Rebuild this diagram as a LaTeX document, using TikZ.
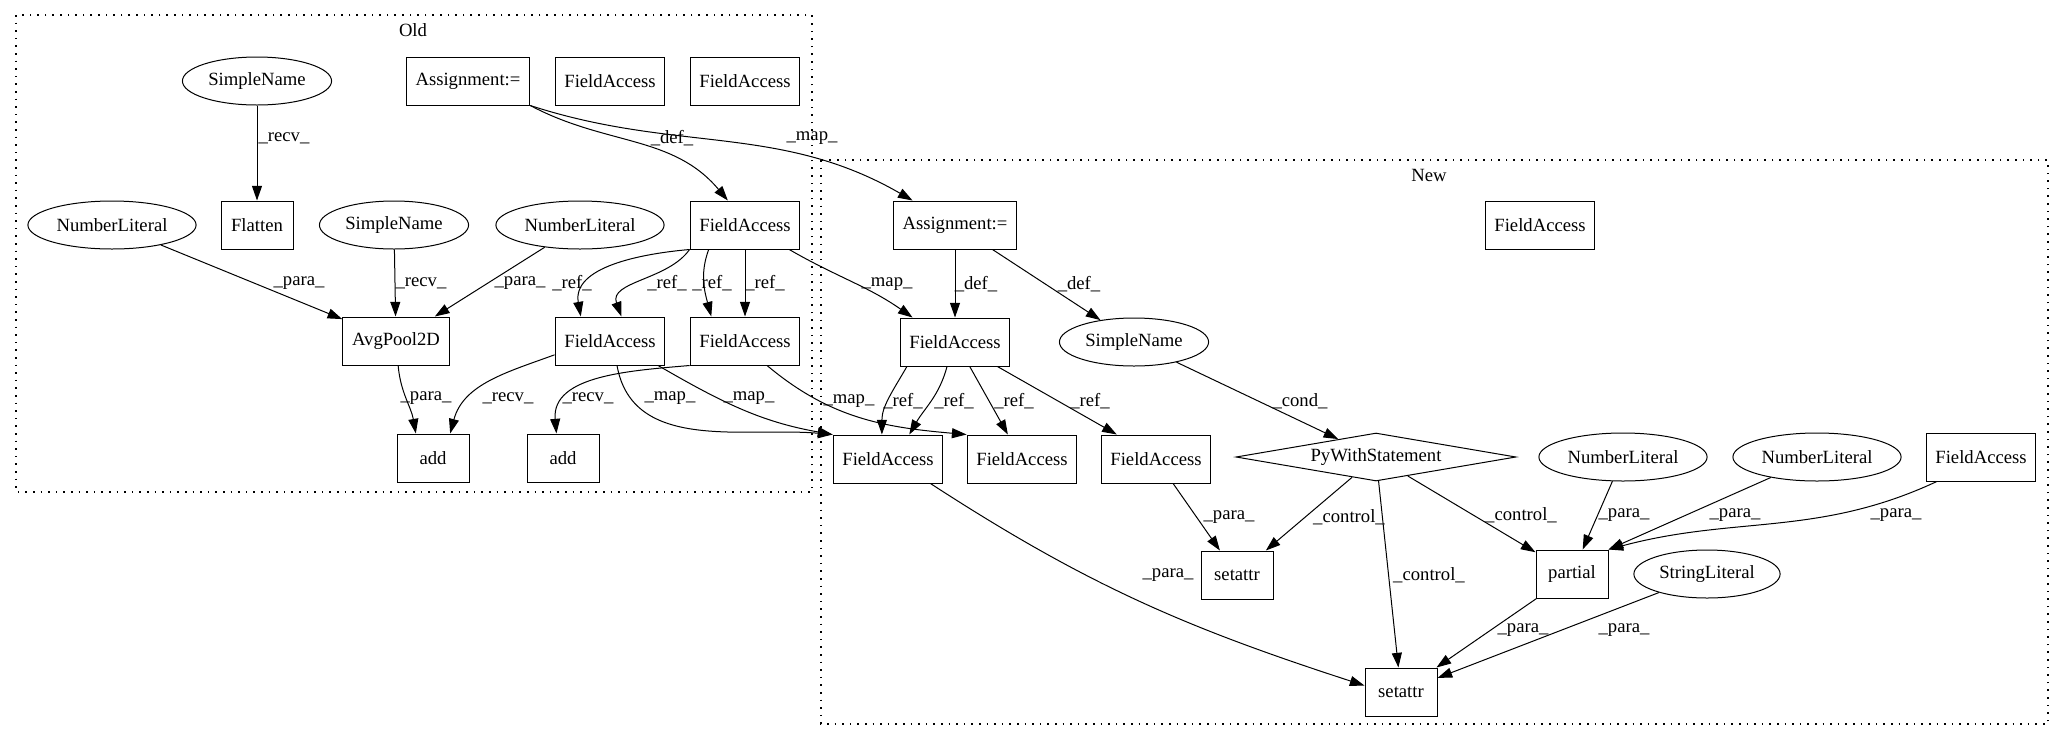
\documentclass[tikz,border=0pt]{standalone}
\usepackage{fontspec}
\setmainfont{Liberation Serif}
\usetikzlibrary{shapes.geometric, arrows.meta}

\begin{document}
\begin{tikzpicture}[x=0.75pt, y=-0.75pt,
	every node/.style={font=\fontsize{14}{16}\selectfont},
	box/.style={draw, rectangle, minimum height=36pt, minimum width=54pt, inner xsep=7pt, line width=0.75pt},
	oval/.style={draw, ellipse, minimum height=36pt, inner xsep=3pt, line width=0.75pt},
	rhomb/.style={draw, diamond, shape aspect=5.8, minimum width=210pt, minimum height=36pt, inner sep=0pt, line width=0.75pt},
	cluster/.style={draw, line width=0.8pt, dash pattern=on 1.2pt off 4.5pt},
	link/.style={-{Triangle[length=11pt,width=7.5pt]}, line width=0.75pt},
	lbl/.style={inner sep=0pt},]
\useasboundingbox (0,0) rectangle (2064,740);

% Old
\draw[cluster] (16,15) rectangle (812,492);
\node (old) at (413,30) {Old};
\node[oval] (sn1) at (257,81) {SimpleName};
\node[box] (asg1) at (468,81) {Assignment:=};
\node[box] (fa1) at (610,81) {FieldAccess};
\node[box] (fa2) at (745,81) {FieldAccess};
\node[oval] (nl1) at (112,225) {NumberLiteral};
\node[box] (flat) at (257,225) {Flatten};
\node[oval] (sn2) at (394,225) {SimpleName};
\node[oval] (nl2) at (580,225) {NumberLiteral};
\node[box] (fa3) at (745,225) {FieldAccess};
\node[box] (avg) at (396,341) {AvgPool2D};
\node[box] (fa4) at (610,341) {FieldAccess};
\node[box] (fa5) at (745,341) {FieldAccess};
\node[box] (add1) at (433,458) {add};
\node[box] (add2) at (563,458) {add};

% New
\draw[cluster] (821,160) rectangle (2048,724);
\node (new) at (1429,175) {New};
\node[box] (asg2) at (955,225) {Assignment:=};
\node[box] (fa6) at (1540,225) {FieldAccess};
\node[box] (fa7) at (955,342) {FieldAccess};
\node[oval] (sn3) at (1134,342) {SimpleName};
\node[box] (fa8) at (888,459) {FieldAccess};
\node[box] (fa9) at (1022,459) {FieldAccess};
\node[box] (fa10) at (1156,459) {FieldAccess};
\node[rhomb] (pyw) at (1376,457) {PyWithStatement};
\node[oval] (nl3) at (1623,457) {NumberLiteral};
\node[oval] (nl4) at (1817,457) {NumberLiteral};
\node[box] (fa11) at (1981,457) {FieldAccess};
\node[box] (set1) at (1237,575) {setattr};
\node[box] (part) at (1572,574) {partial};
\node[oval] (str) at (1707,574) {StringLiteral};
\node[box] (set2) at (1401,692) {setattr};

% edges in Old
\draw[link] (sn1) -- (flat);
\node[lbl] (e1) at (284,138) {\_recv\_};
\draw[link] (nl1) -- (avg);
\node[lbl] (e2) at (299,283) {\_para\_};
\draw[link] (sn2) -- (avg);
\node[lbl] (e3) at (421,283) {\_recv\_};
\draw[link] (nl2) -- (avg);
\node[lbl] (e4) at (520,283) {\_para\_};
\draw[link] (asg1.south east) to[out=-28,in=130] (fa3.125);
\node[lbl] (e5) at (672,138) {\_def\_};
\draw[link] (asg1.south east) to[out=-18,in=150] (asg2.150);
\node[lbl] (e6) at (812,138) {\_map\_};
\draw[link] (fa3.south west) to[out=185,in=100] (fa4.140);
\node[lbl] (e7) at (572,283) {\_ref\_};
\draw[link] (fa3.south west) to[out=235,in=110] (fa4.65);
\node[lbl] (e8) at (667,283) {\_ref\_};
\draw[link] (fa3.214) to[out=250,in=105] (fa5.144);
\node[lbl] (e9) at (712,283) {\_ref\_};
\draw[link] (fa3) -- (fa5);
\node[lbl] (e10) at (765,283) {\_ref\_};
\draw[link] (fa3.331) to[out=-30,in=145] (fa7.150);
\node[lbl] (e11) at (887,284) {\_map\_};
\draw[link] (avg) to[out=-85,in=100] (add1.125);
\node[lbl] (e12) at (426,398) {\_para\_};
\draw[link] (fa4.194) to[out=200,in=75] (add1.55);
\node[lbl] (e13) at (508,398) {\_recv\_};
\draw[link] (fa5.south west) to[out=185,in=95] (add2.105);
\node[lbl] (e14) at (588,398) {\_recv\_};
\draw[link] (fa4.286) to[out=-80,in=175] (fa8.north west);
\node[lbl] (e15) at (670,398) {\_map\_};
\draw[link] (fa4.333) to[out=-30,in=170] (fa8.north west);
\node[lbl] (e16) at (749,398) {\_map\_};
\draw[link] (fa5.312) to[out=-40,in=175] (fa9.north west);
\node[lbl] (e17) at (849,401) {\_map\_};

% edges in New
\draw[link] (asg2) -- (fa7);
\node[lbl] (e18) at (976,284) {\_def\_};
\draw[link] (asg2) -- (sn3);
\node[lbl] (e19) at (1079,284) {\_def\_};
\draw[link] (fa7.207) to[out=240,in=90] (fa8.104);
\node[lbl] (e20) at (903,401) {\_ref\_};
\draw[link] (fa7.252) to[out=-105,in=60] (fa8.49);
\node[lbl] (e21) at (954,401) {\_ref\_};
\draw[link] (fa7.301) -- (fa9.120);
\node[lbl] (e22) at (1014,401) {\_ref\_};
\draw[link] (fa7.330) -- (fa10.148);
\node[lbl] (e23) at (1090,401) {\_ref\_};
\draw[link] (sn3) -- (pyw);
\node[lbl] (e24) at (1300,401) {\_cond\_};
\draw[link] (pyw) -- (set1);
\node[lbl] (e25) at (1349,517) {\_control\_};
\draw[link] (pyw) -- (set2);
\node[lbl] (e26) at (1429,575) {\_control\_};
\draw[link] (pyw) -- (part);
\node[lbl] (e27) at (1521,515) {\_control\_};
\draw[link] (fa10) -- (set1);
\node[lbl] (e28) at (1229,517) {\_para\_};
\draw[link] (fa8.330) to[out=-33,in=162] (set2.170);
\node[lbl] (e29) at (1168,575) {\_para\_};
\draw[link] (nl3) -- (part);
\node[lbl] (e30) at (1624,515) {\_para\_};
\draw[link] (nl4) -- (part.north east);
\node[lbl] (e31) at (1735,515) {\_para\_};
\draw[link] (fa11.209) to[out=205,in=15] (part.north east);
\node[lbl] (e32) at (1896,515) {\_para\_};
\draw[link] (part) -- (set2);
\node[lbl] (e33) at (1523,630) {\_para\_};
\draw[link] (str) -- (set2);
\node[lbl] (e34) at (1624,630) {\_para\_};
\end{tikzpicture}
\end{document}
